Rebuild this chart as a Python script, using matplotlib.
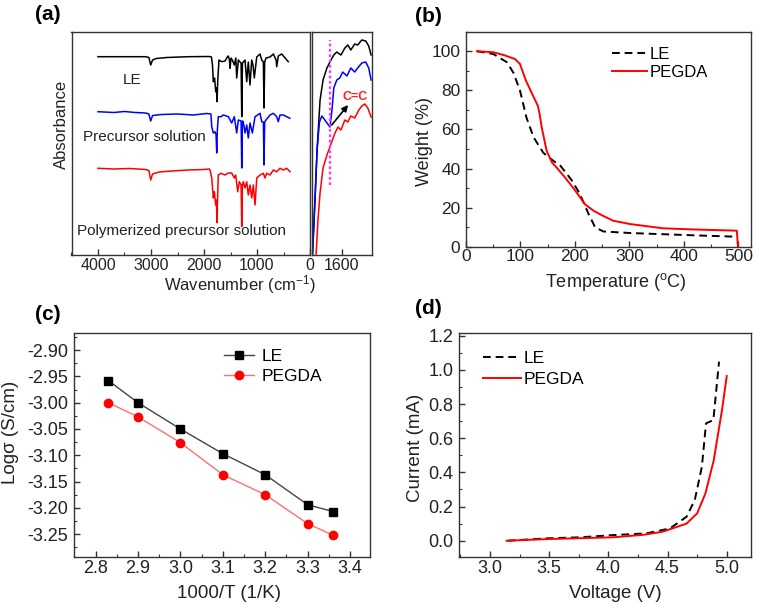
import matplotlib
matplotlib.use('Agg')
import matplotlib.pyplot as plt
from matplotlib.ticker import MultipleLocator

plt.rcParams['font.family'] = ['Liberation Sans', 'DejaVu Sans']
plt.rcParams['mathtext.fontset'] = 'custom'
plt.rcParams['mathtext.rm'] = 'Liberation Sans'
plt.rcParams['mathtext.default'] = 'regular'
plt.rcParams['font.size'] = 12

# ---------------- data ----------------
# (a) FTIR spectra (arbitrary absorbance units, offset curves)
le_wn = [4000, 3100, 3040, 3006, 2970, 2900, 2700, 2300, 1900, 1860, 1840, 1824, 1800, 1779, 1765,
         1754, 1740, 1717, 1666, 1603, 1560, 1541, 1520, 1509, 1490, 1466, 1428, 1400, 1383, 1352,
         1320, 1300, 1288, 1275, 1258, 1226, 1194, 1164, 1132, 1100, 1075, 1051, 1005, 943, 911,
         880, 868, 855, 830, 754, 692, 640, 628, 598, 534, 485, 410]
le_ab = [198.3, 198.3, 197.5, 190, 195, 196.5, 197.5, 198.3, 198.5, 198, 190, 173.3, 177, 163.3, 167,
         153.3, 175, 195, 193.3, 194, 198, 199, 195, 186.7, 197, 195, 190, 197, 177, 195,
         193, 192, 138.3, 192, 193, 195, 173.3, 193, 170, 195, 190, 177, 198, 201, 195,
         193, 147, 193, 197, 198, 201, 195, 188.3, 199, 201, 198, 193.3]

pre_wn = [4000, 3700, 3500, 3300, 3100, 3040, 3006, 2970, 2800, 2500, 2200, 1950, 1870, 1854, 1824,
          1792, 1772, 1760, 1748, 1730, 1679, 1635, 1541, 1477, 1428, 1383, 1352, 1300, 1288, 1275,
          1258, 1226, 1194, 1164, 1132, 1088, 1037, 943, 911, 880, 868, 855, 830, 754, 692, 628,
          598, 566, 503, 380]
pre_ab = [143.3, 142.5, 143.5, 142.5, 142, 141, 134, 139.5, 140.5, 141, 140, 141.5, 141, 128.3, 122,
          123.3, 120, 102, 125, 138.3, 138.3, 140, 138.3, 132, 138.3, 122, 135, 134, 87, 134,
          133.3, 122, 130, 117, 132, 122, 138.3, 141.7, 133.3, 133, 90, 133, 135, 140, 141.7, 138.3,
          133.3, 140, 140, 136.7]

pol_wn = [4000, 3700, 3400, 3100, 3040, 3006, 2970, 2850, 2600, 2300, 2000, 1900, 1887, 1854, 1824,
          1805, 1779, 1766, 1754, 1742, 1730, 1679, 1603, 1541, 1477, 1428, 1402, 1364, 1334, 1300,
          1288, 1275, 1258, 1226, 1194, 1164, 1132, 1100, 1070, 1037, 1005, 943, 881, 849, 817,
          754, 692, 628, 566, 503, 439, 377]
pol_ab = [86.7, 86, 86.5, 85.5, 84.5, 75, 81, 83, 84, 85, 85.5, 86, 85, 77, 57,
          63.3, 50, 55, 32.3, 60, 80, 81.7, 80, 82, 82, 77, 80, 63.3, 73.3, 70,
          28.3, 70, 73.3, 67, 73.3, 60, 70, 57, 70, 50, 77, 80, 81.7, 77, 81.7,
          80, 85, 83.3, 86.7, 85, 86.7, 83.3]

# (a) inset: 1700-1500 cm-1 region
ins_le_wn = [1700, 1690, 1683, 1673, 1663, 1650, 1640, 1627, 1617, 1603, 1590, 1580, 1570, 1557,
             1547, 1533, 1520, 1510, 1502]
ins_le_ab = [-10, 55, 105, 155, 175, 187, 193, 200, 203, 200, 207, 210, 205, 211, 210, 215, 214, 209, 200]
ins_pre_wn = [1700, 1690, 1683, 1675, 1667, 1657, 1640, 1633, 1627, 1617, 1607, 1597, 1583, 1570,
              1557, 1547, 1533, 1520, 1510, 1502]
ins_pre_ab = [-10, 55, 105, 133, 139, 135, 128, 145, 167, 175, 177, 183, 179, 187, 183, 187, 192,
              193, 187, 175]
ins_pol_wn = [1690, 1680, 1673, 1663, 1650, 1640, 1623, 1613, 1603, 1590, 1580, 1570, 1557, 1543,
              1533, 1523, 1513, 1502]
ins_pol_ab = [-20, 35, 62, 87, 100, 108, 122, 128, 125, 135, 133, 139, 137, 145, 149, 151, 147, 138]
cc_wn = 1640

# (b) TGA
tga_le_T = [20, 50, 75, 87, 99, 111, 124, 142, 160, 173, 194, 209, 225, 237, 252, 301, 400, 497]
tga_le_w = [100, 98.6, 94.4, 89, 80, 66, 56, 48, 44, 41.5, 34, 27, 16.7, 9.9, 7.8, 7, 6, 5.1]
tga_pg_T = [20, 50, 70, 90, 99, 110, 120, 132, 135, 139, 148, 158, 166, 180, 197, 210, 218, 234,
            250, 270, 301, 362, 420, 497, 499]
tga_pg_w = [100, 99.5, 98, 96, 93.5, 85, 79, 72, 68, 61, 49, 43, 40.6, 36, 30, 25, 21.8, 18.4,
            16, 13.3, 11.6, 9.4, 8.8, 8.2, 0]

# (c) conductivity
inv_T = [2.83, 2.90, 3.00, 3.10, 3.20, 3.30, 3.36]
log_le = [-2.958, -3.000, -3.050, -3.097, -3.137, -3.194, -3.207]
log_pg = [-3.000, -3.027, -3.076, -3.137, -3.175, -3.230, -3.252]

# (d) LSV
lsv_le_V = [3.15, 3.48, 3.76, 4.04, 4.32, 4.52, 4.66, 4.73, 4.79, 4.825, 4.887, 4.935]
lsv_le_I = [0.0, 0.014, 0.02, 0.033, 0.043, 0.072, 0.14, 0.238, 0.433, 0.687, 0.706, 1.048]
lsv_pg_V = [3.14, 3.5, 4.04, 4.3, 4.46, 4.66, 4.75, 4.82, 4.89, 4.96, 5.0]
lsv_pg_I = [0.0, 0.01, 0.02, 0.035, 0.053, 0.10, 0.16, 0.277, 0.47, 0.765, 0.964]

# ---------------- figure ----------------
W, H = 757, 604
fig = plt.figure(figsize=(W / 100, H / 100), dpi=100)
TXT = '#222222'


def box(l, t, r, b):
    return [l / W, 1 - b / H, (r - l) / W, (b - t) / H]


def style(ax, size=13, xpad=2.0, ypad=4.0):
    for s in ax.spines.values():
        s.set_linewidth(1.0)
        s.set_color('#333333')
    ax.tick_params(which='both', direction='in', top=False, right=False,
                   color='#333333', labelsize=size, labelcolor=TXT)
    ax.tick_params(which='major', length=4, width=1.0)
    ax.tick_params(which='minor', length=2.5, width=0.8)
    ax.tick_params(axis='x', pad=xpad)
    ax.tick_params(axis='y', pad=ypad)


def set_labels(ax, xl, xpos, yl, ypos, size=13.5):
    # label centres given in pixel coordinates of the figure
    l, b, w, h = ax.get_position().bounds
    if xl:
        ax.set_xlabel(xl, va='center', ha='center', fontsize=size, color=TXT)
        ax.xaxis.set_label_coords((xpos[0] / W - l) / w, ((1 - xpos[1] / H) - b) / h)
    if yl:
        ax.set_ylabel(yl, va='center', ha='center', fontsize=size, color=TXT)
        ax.yaxis.set_label_coords((ypos[0] / W - l) / w, ((1 - ypos[1] / H) - b) / h)


# (a) main
axA = fig.add_axes(box(71.5, 32, 310, 255))
style(axA, size=11.5, xpad=2.5)
axA.plot(le_wn, le_ab, color='black', lw=1.1)
axA.plot(pre_wn, pre_ab, color='#0000ff', lw=1.1)
axA.plot(pol_wn, pol_ab, color='#ff0000', lw=1.1)
axA.set_xlim(4500, 0)
axA.set_ylim(0, 223)
axA.set_xticks([4000, 3000, 2000, 1000, 0])
axA.xaxis.set_minor_locator(MultipleLocator(500))
axA.set_yticks([])
axA.text(3364, 175, 'LE', ha='center', va='center', fontsize=11, color=TXT)
axA.text(3132, 118.3, 'Precursor solution', ha='center', va='center', fontsize=11, color=TXT)
axA.text(2420, 24.3, 'Polymerized precursor solution', ha='center', va='center', fontsize=11,
         color=TXT)
set_labels(axA, 'Wavenumber (cm$^{-1}$)', (240, 285), 'Absorbance', (61, 124), size=12)

# (a) inset
axI = fig.add_axes(box(312, 32, 371.7, 255))
style(axI, size=11.5, xpad=2.5)
axI.plot(ins_le_wn, ins_le_ab, color='black', lw=1.1)
axI.plot(ins_pre_wn, ins_pre_ab, color='#0000ff', lw=1.1)
axI.plot(ins_pol_wn, ins_pol_ab, color='#ff0000', lw=1.1)
axI.plot([cc_wn, cc_wn], [70, 215], color='#ff33ff', lw=1.6, ls=(0, (1.2, 1.2)))
axI.set_xlim(1700, 1500)
axI.set_ylim(0, 223)
axI.set_xticks([1600])
axI.set_yticks([])
axI.annotate('', xy=(1579, 150), xytext=(1634, 130),
             arrowprops=dict(arrowstyle='-|>', color='black', lw=1.2, mutation_scale=9,
                             shrinkA=0, shrinkB=0))
axI.text(1557, 158, 'C=C', color='#ff2020', fontsize=9, fontweight='bold', ha='center', va='center')

# (b)
axB = fig.add_axes(box(466, 31.7, 751, 246.7))
style(axB, size=12.5)
axB.plot(tga_le_T, tga_le_w, color='black', lw=1.4, ls=(0, (4, 2.5)), label='LE')
axB.plot(tga_pg_T, tga_pg_w, color='#ff0000', lw=1.4, label='PEGDA')
axB.set_xlim(0, 523)
axB.set_ylim(0, 110)
axB.set_xticks([0, 100, 200, 300, 400, 500])
axB.set_yticks([0, 20, 40, 60, 80, 100])
axB.xaxis.set_minor_locator(MultipleLocator(50))
axB.yaxis.set_minor_locator(MultipleLocator(10))
axB.legend(loc='upper left', bbox_to_anchor=(0.512, 0.93), frameon=False, borderpad=0,
           borderaxespad=0, handlelength=2.1, handletextpad=0.15, labelspacing=0.2, fontsize=12)
set_labels(axB, 'Temperature ($^{o}$C)', (616, 282), 'Weight (%)', (424, 142), size=13)

# (c)
axC = fig.add_axes(box(74, 333.3, 370, 557.3))
style(axC)
axC.plot(inv_T, log_le, color='#444444', lw=1.0, marker='s', ms=5.5, mfc='black', mec='black',
         label='LE')
axC.plot(inv_T, log_pg, color='#ff7070', lw=1.0, marker='o', ms=6, mfc='#ff0000', mec='#ff0000',
         label='PEGDA')
axC.set_xlim(2.749, 3.447)
axC.set_ylim(-3.294, -2.868)
axC.set_xticks([2.8, 2.9, 3.0, 3.1, 3.2, 3.3, 3.4])
axC.set_yticks([-2.90, -2.95, -3.00, -3.05, -3.10, -3.15, -3.20, -3.25])
axC.yaxis.set_major_formatter(plt.FormatStrFormatter('%.2f'))
axC.xaxis.set_major_formatter(plt.FormatStrFormatter('%.1f'))
axC.xaxis.set_minor_locator(MultipleLocator(0.05))
axC.yaxis.set_minor_locator(MultipleLocator(0.025))
axC.legend(loc='upper left', bbox_to_anchor=(0.507, 0.93), frameon=False, borderpad=0,
           borderaxespad=0, handlelength=1.75, handletextpad=0.4, labelspacing=0.3, fontsize=12.5)
set_labels(axC, '1000/T (1/K)', (229, 593), 'Log\u03c3 (S/cm)', (11, 432))

# (d)
axD = fig.add_axes(box(459, 333.3, 751, 557.3))
style(axD)
axD.plot(lsv_le_V, lsv_le_I, color='black', lw=1.4, ls=(0, (4, 2.5)), label='LE')
axD.plot(lsv_pg_V, lsv_pg_I, color='#ff0000', lw=1.4, label='PEGDA')
axD.set_xlim(2.738, 5.205)
axD.set_ylim(-0.097, 1.214)
axD.set_xticks([3.0, 3.5, 4.0, 4.5, 5.0])
axD.set_yticks([0.0, 0.2, 0.4, 0.6, 0.8, 1.0, 1.2])
axD.xaxis.set_major_formatter(plt.FormatStrFormatter('%.1f'))
axD.yaxis.set_major_formatter(plt.FormatStrFormatter('%.1f'))
axD.xaxis.set_minor_locator(MultipleLocator(0.25))
axD.yaxis.set_minor_locator(MultipleLocator(0.1))
axD.legend(loc='upper left', bbox_to_anchor=(0.082, 0.92), frameon=False, borderpad=0,
           borderaxespad=0, handlelength=2.2, handletextpad=0.15, labelspacing=0.3, fontsize=12.5)
set_labels(axD, 'Voltage (V)', (615, 593), 'Current (mA)', (416, 448))

# panel labels
for lab, (px, py) in [('(a)', (48, 15)), ('(b)', (428, 16)), ('(c)', (47.5, 314)), ('(d)', (428, 309))]:
    fig.text(px / W, 1 - py / H, lab, fontsize=15, fontweight='bold', ha='center', va='center')

fig.savefig('out.png', dpi=100)
